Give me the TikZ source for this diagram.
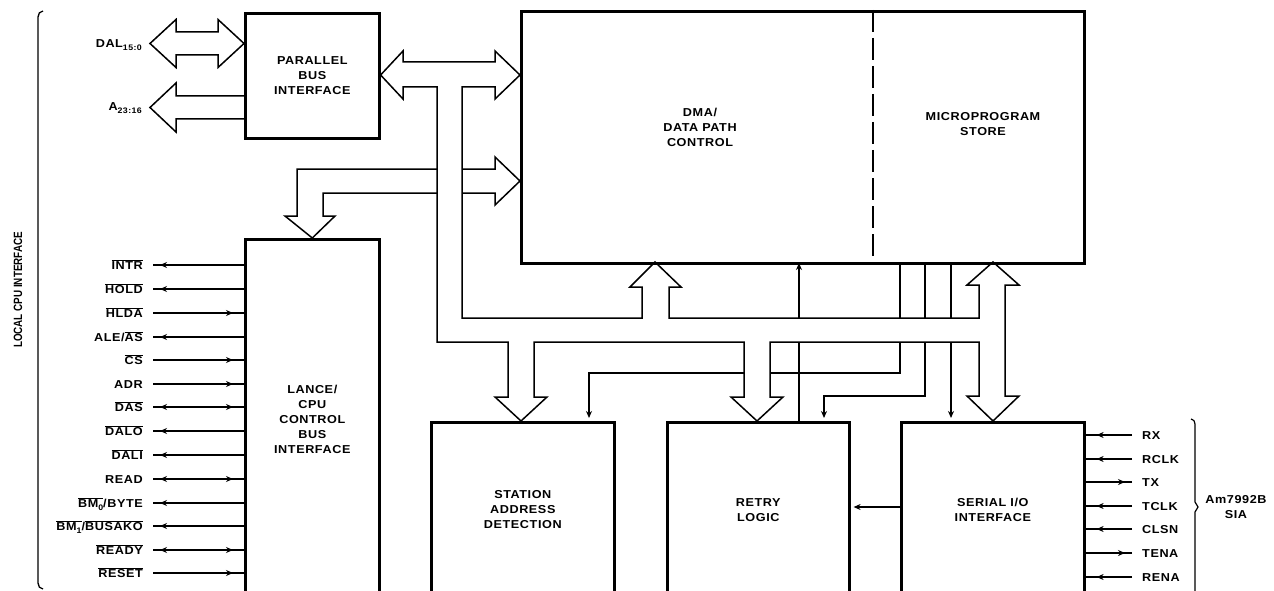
\documentclass[tikz,border=0pt]{standalone}
\usepackage{fontspec}
\newfontfamily\dfont[FakeStretch=1.1,LetterSpace=5]{Liberation Sans}
\newfontfamily\vfont[FakeStretch=0.82]{Liberation Sans}
\usetikzlibrary{arrows.meta,decorations.markings}
\newcommand\mybar[1]{$\overline{\hbox{#1}}$}
\newcommand\mysub[1]{\raisebox{-2.5pt}{\fontsize{8}{8}\selectfont #1}}
\newcommand\leftsig[4]{%
  \node[lbl, anchor=base east] (#1) at (143,#2+4.5) {#3};
  \coordinate (#1s) at (153,#2);
  \draw[#4] (#1s) -- (#1s -| lance.west);}
\newcommand\rightsig[4]{%
  \node[lbl, anchor=base west] (#1) at (1142,#2+4.5) {#3};
  \coordinate (#1s) at (1132,#2);
  \draw[#4] (#1s) -- (#1s -| serial.east);}
\begin{document}
\begin{tikzpicture}[x=1pt,y=-1pt,
  >={Stealth[length=7pt,width=6pt]},
  txt/.style={font=\dfont\bfseries\fontsize{11.5}{15}\selectfont, align=center, inner sep=0pt},
  lbl/.style={font=\dfont\bfseries\fontsize{11.5}{15}\selectfont, inner sep=0pt},
  blk/.style={draw, line width=2.6pt, inner sep=0pt, anchor=north west, txt},
  bus/.style={draw, line width=1.5pt, line join=miter},
  thinl/.style={draw, line width=1.2pt},
  sigline/.style={draw, line width=1.3pt},
  sigin/.style={sigline, postaction={decorate, decoration={markings, mark=at position -11pt with {\arrow{>}}}}},
  sigout/.style={sigline, postaction={decorate, decoration={markings, mark=at position 7pt with {\arrowreversed{>}}}}},
  sigbi/.style={sigline, postaction={decorate, decoration={markings, mark=at position 7pt with {\arrowreversed{>}}, mark=at position -11pt with {\arrow{>}}}}},
]
\useasboundingbox (0,0) rectangle (1274,591);
\fill[white] (0,0) rectangle (1274,591);
\clip (0,0) rectangle (1274,591);

% blocks
\node[blk, minimum width=134pt, minimum height=125pt] (pbi) at (244,12) {PARALLEL\\BUS\\INTERFACE};
\node[blk, minimum width=134pt, minimum height=360pt] (lance) at (244,238) {LANCE/\\CPU\\CONTROL\\BUS\\INTERFACE};
\node[blk, minimum width=563pt, minimum height=252pt] (big) at (520,10) {};
\coordinate (div) at (873,10);
\draw[line width=2.6pt, dash pattern=on 22pt off 6pt] (div) -- (div |- big.south);
\node[txt] (dmalbl) at (700,127) {DMA/\\DATA PATH\\CONTROL};
\node[txt] (mslbl) at (983,124) {MICROPROGRAM\\STORE};
\node[blk, minimum width=183pt, minimum height=175pt] (sad) at (430,421) {STATION\\ADDRESS\\DETECTION};
\node[blk, minimum width=182pt, minimum height=175pt] (retry) at (666,421) {RETRY\\LOGIC};
\node[blk, minimum width=183pt, minimum height=175pt] (serial) at (900,421) {SERIAL I/O\\INTERFACE};

% external bus arrows
\node[lbl, anchor=base east] (dal) at (142,48) {DAL\mysub{15:0}};
\node[lbl, anchor=base east] (addr) at (142,111) {A\mysub{23:16}};
\draw[bus] (150,43.5) -- (176,19.5) -- (176,32) -- (218,32) -- (218,19.5) -- (pbi.west |- 0,43.5) -- (218,67.5) -- (218,55) -- (176,55) -- (176,67.5) -- cycle;
\draw[bus] (pbi.west |- 0,96) -- (176,96) -- (176,83) -- (150,107.5) -- (176,132) -- (176,119) -- (pbi.west |- 0,119);

% internal bus network
\draw[bus] (pbi.east |- 0,75) -- (403,51) -- (403,62) -- (495,62) -- (495,51) -- (big.west |- 0,75) -- (495,99) -- (495,87)
  -- (462,87) -- (462,318) -- (642,318) -- (642,287) -- (630,287) -- (655,262) -- (681,287) -- (669,287) -- (669,318)
  -- (979,318) -- (979,285) -- (967,285) -- (993,262) -- (1019,285) -- (1005,285) -- (1005,396) -- (1019,396) -- (993,421)
  -- (967,396) -- (979,396) -- (979,342) -- (770,342) -- (770,397) -- (783,397) -- (757,421) -- (731,397) -- (744,397)
  -- (744,342) -- (534,342) -- (534,397) -- (547,397) -- (521,421) -- (495,397) -- (508,397) -- (508,342) -- (437,342)
  -- (437,87) -- (403,87) -- (403,99) -- cycle;
\draw[bus] (462,169) -- (495,169) -- (495,157) -- (big.west |- 0,181) -- (495,205) -- (495,193) -- (462,193);
\draw[bus] (437,169) -- (297,169) -- (297,216) -- (285,216) -- (lance.north |- 0,238) -- (335,216) -- (323,216) -- (323,193) -- (437,193);

% control lines
\draw[thinl, ->] (799,318) -- (799,263);
\draw[thinl] (799,342) -- (799,421);
\draw[thinl] (900,262) -- (900,318);
\draw[thinl] (925,262) -- (925,318);
\draw[thinl] (951,262) -- (951,318);
\draw[thinl] (900,342) -- (900,373) -- (770,373);
\draw[thinl, ->, shorten >=3pt] (744,373) -- (589,373) -- (589,421);
\draw[thinl, ->, shorten >=3pt] (925,342) -- (925,396) -- (824,396) -- (824,421);
\draw[thinl, ->, shorten >=3pt] (951,342) -- (951,421);
\draw[thinl, ->, shorten >=3pt] (serial.west |- 0,507) -- (retry.east |- 0,507);

% local CPU interface
\draw[line width=1.3pt] (43,11) to[out=180,in=90] (38,17) -- (38,583) to[out=-90,in=180] (43,589);
\node[rotate=90, font=\vfont\bfseries\fontsize{12}{13}\selectfont, inner sep=0pt] (cpu) at (18,290) {LOCAL CPU INTERFACE};

\leftsig{intr}{265}{\mybar{INTR}}{sigout}
\leftsig{hold}{289}{\mybar{HOLD}}{sigout}
\leftsig{hlda}{313}{\mybar{HLDA}}{sigin}
\leftsig{ale}{337}{ALE/\mybar{AS}}{sigout}
\leftsig{cs}{360}{\mybar{CS}}{sigin}
\leftsig{adr}{384}{ADR}{sigin}
\leftsig{das}{407}{\mybar{DAS}}{sigbi}
\leftsig{dalo}{431}{\mybar{DALO}}{sigout}
\leftsig{dali}{455}{\mybar{DALI}}{sigout}
\leftsig{read}{479}{READ}{sigbi}
\leftsig{bmz}{503}{\mybar{BM\mysub{0}}/BYTE}{sigout}
\leftsig{bmo}{526}{\mybar{BM\mysub{1}}/\mybar{BUSAKO}}{sigout}
\leftsig{ready}{550}{\mybar{READY}}{sigbi}
\leftsig{reset}{573}{\mybar{RESET}}{sigin}

% serial interface
\rightsig{rx}{435}{RX}{sigin}
\rightsig{rclk}{459}{RCLK}{sigin}
\rightsig{tx}{482}{TX}{sigout}
\rightsig{tclk}{506}{TCLK}{sigin}
\rightsig{clsn}{529}{CLSN}{sigin}
\rightsig{tena}{553}{TENA}{sigout}
\rightsig{rena}{577}{RENA}{sigin}
\draw[line width=1.2pt] (1191,419) to[out=0,in=90] (1195,424) -- (1195,502) -- (1198,507) -- (1195,512) -- (1195,595);
\node[txt] (sia) at (1236,507) {Am7992B\\SIA};
\end{tikzpicture}
\end{document}
